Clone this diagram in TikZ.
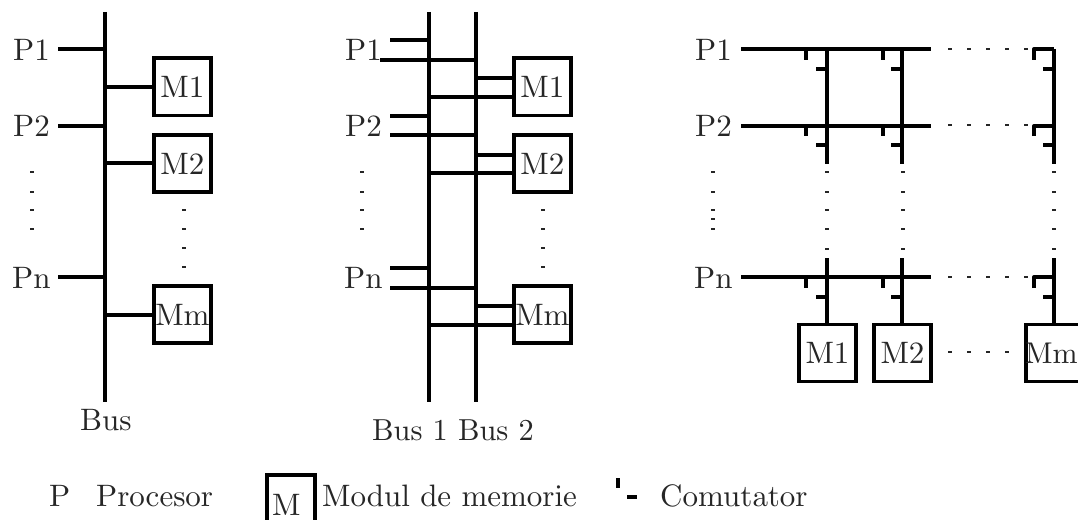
\documentclass[tikz,border=0pt]{standalone}
\font\cmbig=cmr10 at 31pt
\font\cmbus=cmr10 at 30.4pt
\font\cmmm=cmr10 at 30pt
\tikzset{
  wire/.style={line width=3.8pt},
  thin wire/.style={line width=3.3pt},
  membox/.style={draw,line width=3.9pt,minimum width=57pt,minimum height=57pt,inner sep=0pt,font=\cmbig,text=black!85,anchor=north west},
  lab/.style={inner sep=0pt,font=\cmbig,text=black!85,anchor=base west},
  swl/.style={line width=3.4pt}
}
\newcommand{\dotsat}[2]{\foreach \yy in {#2}{\fill[black!85] (#1-1.8,\yy-1.4) rectangle (#1+1.8,\yy+1.4);}}
\newcommand{\hdotsat}[2]{\foreach \xx in {#2}{\fill[black!85] (\xx-1.8,#1-1.4) rectangle (\xx+1.8,#1+1.4);}}
\begin{document}
\begin{tikzpicture}[x=1pt,y=-1pt]
\useasboundingbox (0,0) rectangle (1078,519);
\clip (0,0) rectangle (1078,519);
\fill[white] (0,0) rectangle (1078,519);
% ---- panel 1
\node[lab] (aP1) at (13,60) {P1};
\node[lab] (aP2) at (13,136) {P2};
\node[lab] (aPn) at (12,288) {Pn};
\node[membox] (aM1) at (152,56.5) {M1};
\node[membox] (aM2) at (152,133) {M2};
\node[membox] (aMm) at (152,284) {Mm};
\node[lab] (aBus) at (80,430) {Bus};
\coordinate (at) at (105,12);
\coordinate (ab) at (105,402);
\draw[wire] (at) -- (ab);
\coordinate (ap1) at (58,49);
\coordinate (ap2) at (58,126);
\coordinate (apn) at (58,277);
\draw[thin wire] (ap1) -- (ap1 -| at);
\draw[thin wire] (ap2) -- (ap2 -| at);
\draw[thin wire] (apn) -- (apn -| at);
\coordinate (am1) at (105,87);
\coordinate (am2) at (105,163);
\coordinate (amm) at (105,315);
\draw[thin wire] (am1) -- (am1 -| aM1.west);
\draw[thin wire] (am2) -- (am2 -| aM2.west);
\draw[thin wire] (amm) -- (amm -| aMm.west);
\dotsat{32}{172,192,210,229}
\dotsat{184}{210,229,248,267}
% ---- panel 2
\node[lab] (bP1) at (345,60) {P1};
\node[lab] (bP2) at (345,136) {P2};
\node[lab] (bPn) at (344,288) {Pn};
\node[membox] (bM1) at (512,56.5) {M1};
\node[membox] (bM2) at (512,133) {M2};
\node[membox] (bMm) at (512,284) {Mm};
\node[lab,font=\cmbus] (bBus) at (372,440) {Bus 1 Bus 2};
\coordinate (b1t) at (429,12);
\coordinate (b1b) at (429,402);
\coordinate (b2t) at (476,12);
\coordinate (b2b) at (476,402);
\draw[wire] (b1t) -- (b1b);
\draw[wire] (b2t) -- (b2b);
\foreach \ya/\yb/\yc/\yd/\bx/\sx in {40/60/78/97/bM1/380,116/135/155/173/bM2/390,268/288/306/325/bMm/390}{
  \coordinate (s) at (390,\ya);
  \coordinate (l) at (\sx,\yb);
  \coordinate (m) at (476,\yc);
  \coordinate (n) at (429,\yd);
  \draw[thin wire] (s) -- (s -| b1t);
  \draw[thin wire] (l) -- (l -| b2t);
  \draw[thin wire] (m) -- (m -| \bx.west);
  \draw[thin wire] (n) -- (n -| \bx.west);
}
\dotsat{362}{172,192,210,229}
\dotsat{543}{210,229,248,267}
% ---- panel 3
\node[lab] (cP1) at (695,60) {P1};
\node[lab] (cP2) at (695,136) {P2};
\node[lab] (cPn) at (694,288) {Pn};
\node[membox] (cM1) at (797,322.5) {M1};
\node[membox] (cM2) at (872,322.5) {M2};
\node[membox,font=\cmmm] (cMm) at (1024,322.5) {\kern-6pt Mm};
\coordinate (r1) at (741,49);
\coordinate (r2) at (741,126);
\coordinate (r3) at (741,277);
\coordinate (re1) at (931,49);
\coordinate (re2) at (931,126);
\coordinate (re3) at (931,277);
\draw[line width=3.9pt] (r1) -- (re1);
\draw[line width=3.9pt] (r2) -- (re2);
\draw[line width=3.9pt] (r3) -- (re3);
\foreach \c/\xv/\xs in {cM1/827/806,cM2/902/883}{
  \coordinate (t) at (\xv,49);
  \coordinate (u) at (\xv,164);
  \coordinate (v) at (\xv,258);
  \draw[wire] (t) -- (u);
  \draw[wire] (v) -- (v |- \c.north);
  \foreach \yy/\yz/\yk in {49/60/69,126/136/145,277/288/297}{
    \coordinate (k) at (\xs,\yy);
    \coordinate (kk) at (\xs,\yz);
    \draw[swl] (k) -- (kk);
    \coordinate (h) at (\xv,\yk);
    \draw[swl] (h) -- ++(-11,0);
  }
}
\coordinate (t) at (1054,49);
\coordinate (u) at (1054,164);
\coordinate (v) at (1054,258);
\draw[wire] (t) -- (u);
\draw[wire] (v) -- (v |- cMm.north);
\foreach \yy/\yz/\yk in {49/60/69,126/136/145,277/288/297}{
  \coordinate (k) at (1034,\yz);
  \coordinate (kk) at (1054,\yy);
  \draw[swl,line join=round] (k) |- (kk);
  \coordinate (h) at (1054,\yk);
  \draw[swl] (h) -- ++(-11,0);
}
\hdotsat{49}{950,969,988,1007,1026}
\hdotsat{125}{950,969,988,1007,1026}
\hdotsat{277}{950,969,988,1007,1026}
\hdotsat{352}{950,969,988,1007}
\dotsat{713}{172,192,210,219,229}
\dotsat{827}{172,192,210,229,249}
\dotsat{903}{172,192,210,229,249}
\dotsat{1054}{172,192,210,229,249}
% ---- legend
\node[lab] (lP) at (49,506) {P};
\node[lab] (lPr) at (96,506) {Procesor};
\node[draw,line width=3.9pt,minimum width=48pt,minimum height=70pt,anchor=north west,inner sep=0pt] (lM) at (265,473) {};
\node[lab] (lMt) at (272,515) {M};
\node[lab] (lMo) at (322,506) {Modul de memorie};
\coordinate (sw1) at (618,478);
\coordinate (sw2) at (618,488);
\draw[line width=3.8pt] (sw1) -- (sw2);
\coordinate (sw3) at (627,497);
\coordinate (sw4) at (637,497);
\draw[swl] (sw3) -- (sw4);
\node[lab] (lC) at (660,506) {Comutator};
\end{tikzpicture}
\end{document}
